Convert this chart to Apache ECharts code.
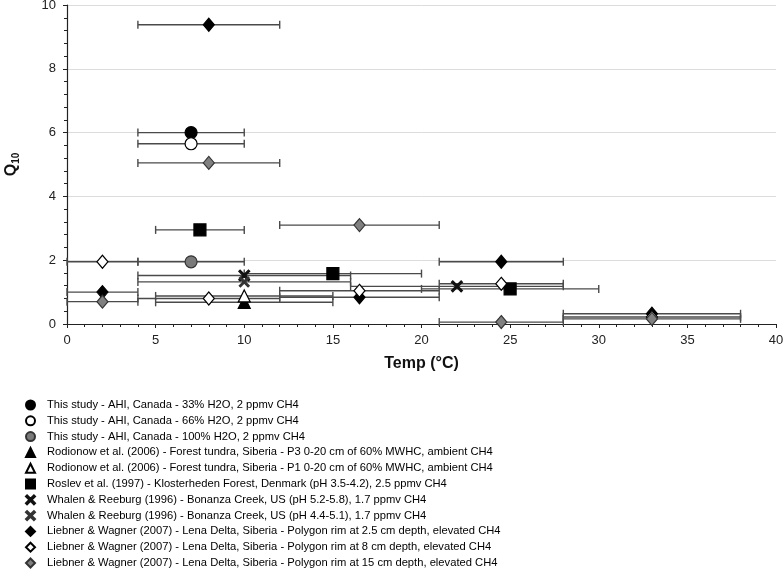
<!DOCTYPE html>
<html>
<head>
<meta charset="utf-8">
<script src="https://cdn.jsdelivr.net/npm/echarts@6/dist/echarts.min.js"></script>
<style>
html,body{margin:0;padding:0;background:#fff;}
#chart{width:784px;height:574px;}
</style>
</head>
<body>
<div id="chart"></div>
<script>
// Each row: [temperature (°C), Q10, range low (°C), range high (°C)]
const seriesNames = [
  'This study - AHI, Canada - 33% H2O, 2 ppmv CH4',
  'This study - AHI, Canada - 66% H2O, 2 ppmv CH4',
  'This study - AHI, Canada - 100% H2O, 2 ppmv CH4',
  'Rodionow et al. (2006) - Forest tundra, Siberia - P3 0-20 cm of 60% MWHC, ambient CH4',
  'Rodionow et al. (2006) - Forest tundra, Siberia - P1 0-20 cm of 60% MWHC, ambient CH4',
  'Roslev et al. (1997) - Klosterheden Forest, Denmark (pH 3.5-4.2), 2.5 ppmv CH4',
  'Whalen & Reeburg (1996) - Bonanza Creek, US (pH 5.2-5.8), 1.7 ppmv CH4',
  'Whalen & Reeburg (1996) - Bonanza Creek, US (pH 4.4-5.1), 1.7 ppmv CH4',
  'Liebner & Wagner (2007) - Lena Delta, Siberia - Polygon rim at 2.5 cm depth, elevated CH4',
  'Liebner & Wagner (2007) - Lena Delta, Siberia - Polygon rim at 8 cm depth, elevated CH4',
  'Liebner & Wagner (2007) - Lena Delta, Siberia - Polygon rim at 15 cm depth, elevated CH4'
];
const ahi33 = [[7, 6.0, 4, 10]];
const ahi66 = [[7, 5.65, 4, 10]];
const ahi100 = [[7, 1.95, 4, 10]];
const rodP3 = [[10, 0.68, 5, 15]];
const rodP1 = [[10, 0.88, 5, 15]];
const roslev = [[7.5, 2.95, 5, 10], [15, 1.58, 10, 20], [25, 1.1, 20, 30]];
const whalenA = [[10, 1.52, 4, 16], [22, 1.18, 16, 28]];
const whalenB = [[10, 1.32, 4, 16]];
const lieb25 = [[2, 1.0, 0, 4], [8, 9.38, 4, 12], [16.5, 0.84, 12, 21], [24.5, 1.95, 21, 28], [33, 0.32, 28, 38]];
const lieb8 = [[2, 1.95, 0, 4], [8, 0.8, 4, 12], [16.5, 1.04, 12, 21], [24.5, 1.26, 21, 28], [33, 0.22, 28, 38]];
const lieb15 = [[2, 0.7, 0, 4], [8, 5.05, 4, 12], [16.5, 3.1, 12, 21], [24.5, 0.06, 21, 28], [33, 0.16, 28, 38]];
const xTicks = [0, 5, 10, 15, 20, 25, 30, 35, 40];
const yTicks = [0, 2, 4, 6, 8, 10];

const allData = [ahi33, ahi66, ahi100, rodP3, rodP1, roslev, whalenA, whalenB, lieb25, lieb8, lieb15];
const xPath = 'path://M0,1.2 L1.2,0 L5,3.8 L8.8,0 L10,1.2 L6.2,5 L10,8.8 L8.8,10 L5,6.2 L1.2,10 L0,8.8 L3.8,5 Z';
const styles = [
  {symbol: 'circle', size: 12, color: '#000', border: '#000'},
  {symbol: 'circle', size: 12, color: '#fff', border: '#000'},
  {symbol: 'circle', size: 12, color: '#7a7a7a', border: '#333'},
  {symbol: 'triangle', size: 12, color: '#000', border: '#000'},
  {symbol: 'triangle', size: 12, color: '#fff', border: '#000'},
  {symbol: 'rect', size: 12, color: '#000', border: '#000'},
  {symbol: xPath, size: 11, color: '#111', border: '#111'},
  {symbol: xPath, size: 10, color: '#333', border: '#333'},
  {symbol: 'diamond', size: [11, 13], color: '#000', border: '#000'},
  {symbol: 'diamond', size: [11, 13], color: '#fff', border: '#000'},
  {symbol: 'diamond', size: [11, 13], color: '#808080', border: '#333'}
];

function errRender(params, api) {
  const y = api.value(1);
  const p1 = api.coord([api.value(2), y]);
  const p2 = api.coord([api.value(3), y]);
  const h = 4;
  const st = {stroke: '#4a4a4a', lineWidth: 1.4};
  return {
    type: 'group',
    children: [
      {type: 'line', shape: {x1: p1[0], y1: p1[1], x2: p2[0], y2: p2[1]}, style: st},
      {type: 'line', shape: {x1: p1[0], y1: p1[1] - h, x2: p1[0], y2: p1[1] + h}, style: st},
      {type: 'line', shape: {x1: p2[0], y1: p2[1] - h, x2: p2[0], y2: p2[1] + h}, style: st}
    ]
  };
}

const series = [];
allData.forEach((d, i) => {
  series.push({
    type: 'custom',
    name: 'err' + i,
    renderItem: errRender,
    encode: {x: [0, 2, 3], y: 1},
    data: d,
    z: 2,
    silent: true
  });
});
allData.forEach((d, i) => {
  const s = styles[i];
  series.push({
    type: 'scatter',
    name: seriesNames[i],
    data: d.map(r => [r[0], r[1]]),
    symbol: s.symbol,
    symbolSize: s.size,
    itemStyle: {color: s.color, borderColor: s.border, borderWidth: 1.2, opacity: 1},
    z: 5
  });
});

const font = 'Liberation Sans, Arial, sans-serif';
const chart = echarts.init(document.getElementById('chart'), null, {renderer: 'canvas'});
chart.setOption({
  backgroundColor: '#fff',
  animation: false,
  grid: {left: 67, right: 8, top: 5, bottom: 250, containLabel: false, outerBoundsMode: 'none'},
  legend: {
    data: seriesNames.map((n, i) => ({name: n, icon: styles[i].symbol})),
    orient: 'vertical',
    left: 25,
    top: 399,
    padding: 0,
    height: 175,
    itemWidth: 9,
    itemHeight: 9,
    itemGap: 3.8,
    selectedMode: false,
    textStyle: {fontFamily: font, fontSize: 11.2, lineHeight: 12, color: '#000', padding: [0, 0, 0, 7]}
  },
  xAxis: {
    type: 'value',
    min: xTicks[0],
    max: xTicks[xTicks.length - 1],
    interval: 5,
    name: 'Temp (°C)',
    nameLocation: 'middle',
    nameGap: 32,
    nameTextStyle: {fontFamily: font, fontSize: 16, fontWeight: 'bold', color: '#111'},
    axisLine: {show: true, onZero: false, lineStyle: {color: '#222', width: 1.2}},
    axisTick: {show: true, length: 4, lineStyle: {color: '#222'}},
    minorTick: {show: true, splitNumber: 5, length: 3, lineStyle: {color: '#222'}},
    splitLine: {show: false},
    axisLabel: {fontFamily: font, fontSize: 13, color: '#222', margin: 10}
  },
  yAxis: {
    type: 'value',
    min: yTicks[0],
    max: yTicks[yTicks.length - 1],
    interval: 2,
    name: 'Q{sub|10}',
    nameLocation: 'middle',
    nameGap: 46,
    nameRotate: 90,
    nameTextStyle: {
      fontFamily: font, fontSize: 16, fontWeight: 'bold', color: '#111',
      rich: {sub: {fontFamily: font, fontSize: 10, fontWeight: 'bold', verticalAlign: 'bottom', padding: [8, 0, 0, 0], color: '#111'}}
    },
    axisLine: {show: true, onZero: false, lineStyle: {color: '#222', width: 1.2}},
    axisTick: {show: true, length: 4, lineStyle: {color: '#222'}},
    minorTick: {show: true, splitNumber: 5, length: 3, lineStyle: {color: '#222'}},
    splitLine: {show: true, lineStyle: {color: '#dcdcdc', width: 1}},
    axisLabel: {fontFamily: font, fontSize: 13, color: '#222', margin: 11}
  },
  series: series
});
</script>
</body>
</html>
